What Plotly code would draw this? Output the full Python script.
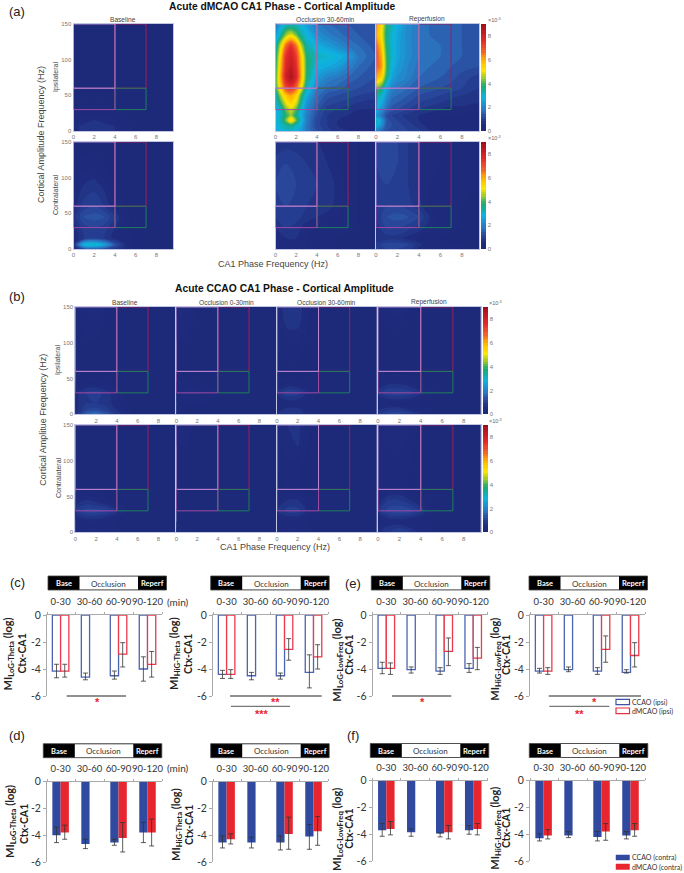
import plotly.graph_objects as go

W, H = 684, 873
# ---------- heat map grids ----------
fine_x = [0, 0.5, 1, 1.5, 2, 2.5, 3, 4, 5, 6, 7, 8, 9.6]
fine_y = [0, 8, 15, 22, 30, 40, 50, 60, 75, 90, 105, 120, 135, 150]
coarse_x = [0, 1, 2, 3, 4, 5, 6, 8, 9.6]
coarse_y = [0, 6, 15, 30, 45, 60, 90, 120, 150]

a_occ_ipsi = [
 [2.6,2.8,2.9,2.9,2.8,2.4,1.8,1.2,0.9,0.7,0.6,0.5,0.4],
 [2.8,3.0,3.4,3.6,3.2,2.6,1.8,1.1,0.8,0.6,0.5,0.5,0.4],
 [2.8,3.2,4.2,5.6,4.2,2.9,1.9,1.1,0.8,0.6,0.5,0.5,0.4],
 [2.7,3.1,3.8,4.4,3.6,2.7,1.9,1.2,0.8,0.7,0.6,0.5,0.5],
 [2.7,3.2,4.2,4.8,4.1,2.9,2.1,1.3,0.9,0.8,0.7,0.6,0.6],
 [2.9,3.9,5.0,5.5,4.9,3.4,2.3,1.5,1.1,1.0,0.9,0.8,0.7],
 [3.1,4.6,5.7,6.1,5.5,3.9,2.7,1.7,1.3,1.2,1.1,1.0,0.9],
 [3.7,5.5,7.0,7.4,6.6,5.0,3.2,2.0,1.6,1.5,1.3,1.2,1.1],
 [3.8,6.0,8.0,8.7,7.8,5.8,3.7,2.4,2.0,1.8,1.6,1.4,1.2],
 [3.6,5.8,7.7,8.3,7.6,5.7,3.8,2.8,2.6,2.4,2.0,1.6,1.3],
 [3.4,5.5,7.5,8.0,7.3,5.5,3.7,3.1,3.0,2.8,2.4,1.8,1.4],
 [3.1,4.8,6.6,7.5,6.5,4.6,3.3,2.7,2.4,2.1,1.8,1.6,1.3],
 [2.3,3.3,4.4,4.9,4.2,3.3,2.9,2.2,1.9,1.7,1.5,1.4,1.2],
 [1.6,2.6,3.0,3.0,3.0,2.8,2.4,1.9,1.6,1.5,1.4,1.3,1.2]]
a_rep_ipsi = [
 [2.0,1.6,1.2,1.2,1.1,1.1,1.0,0.9,0.6,0.4,0.3,0.3,0.3],
 [3.0,2.2,1.3,1.2,1.1,1.0,0.9,0.7,0.5,0.4,0.3,0.3,0.3],
 [3.3,2.4,1.3,1.1,1.0,0.9,0.8,0.6,0.5,0.4,0.3,0.3,0.3],
 [2.4,1.8,1.2,1.0,0.9,0.8,0.7,0.6,0.5,0.4,0.4,0.4,0.3],
 [2.8,2.3,1.6,1.3,1.2,1.1,1.0,0.8,0.7,0.6,0.5,0.5,0.4],
 [3.1,2.7,1.9,1.5,1.4,1.3,1.2,1.0,0.9,0.8,0.7,0.7,0.6],
 [3.5,3.1,2.2,1.7,1.6,1.5,1.4,1.2,1.1,1.0,0.9,0.8,0.7],
 [4.2,3.8,2.6,2.0,1.8,1.7,1.6,1.4,1.3,1.2,1.1,1.0,0.8],
 [6.0,5.4,3.6,2.5,2.2,2.1,1.9,1.6,1.5,1.4,1.3,1.1,0.9],
 [6.8,6.2,3.9,2.8,2.4,2.2,2.0,1.7,1.6,1.5,1.4,1.3,1.2],
 [7.0,6.0,3.8,3.0,2.5,2.3,2.1,1.8,1.7,1.6,1.5,1.4,1.3],
 [6.8,5.6,3.6,3.0,2.5,2.3,2.1,1.8,1.7,1.6,1.5,1.4,1.3],
 [6.0,5.2,3.5,3.0,2.6,2.3,2.1,1.8,1.6,1.5,1.5,1.4,1.3],
 [6.2,5.4,3.7,3.2,2.7,2.4,2.1,1.8,1.6,1.5,1.5,1.4,1.3]]
a_base_ipsi = [
 [.5,.7,.8,.7,.6,.3,.15,.1,.1],[.5,.7,.8,.7,.6,.3,.15,.1,.1],[.3,.5,.6,.5,.4,.2,.1,.1,.1],
 [.2,.3,.3,.3,.2,.1,.1,.1,.1],[.15,.15,.15,.15,.1,.1,.1,.1,.1],[.1,.1,.1,.1,.1,.1,.1,.1,.1],
 [.1,.1,.1,.1,.1,.1,.1,.1,.1],[.1,.1,.1,.1,.1,.1,.1,.1,.1],[.1,.1,.1,.1,.1,.1,.1,.1,.1]]
a_base_contra = [
 [.4,1.2,1.4,1.2,.8,.5,.2,.1,.1],[.6,2.9,3.2,2.5,1.3,.6,.2,.1,.1],[.4,.8,1.0,.8,.5,.3,.2,.1,.1],
 [.5,.9,1.0,.9,.6,.3,.1,.1,.1],[.7,1.2,1.3,1.2,.8,.3,.1,.1,.1],[.5,.9,1.0,.8,.4,.2,.1,.1,.1],
 [.3,.6,.7,.5,.2,.1,.1,.1,.1],[.2,.3,.3,.2,.1,.1,.1,.1,.1],[.1,.1,.1,.1,.1,.1,.1,.1,.1]]
a_occ_contra = [
 [.4,.6,.5,.4,.3,.3,.2,.1,.1],[.4,.6,.5,.4,.3,.3,.2,.1,.1],[.5,.6,.6,.4,.3,.3,.2,.1,.1],
 [.6,.8,.7,.5,.4,.4,.3,.2,.1],[.8,1.0,.9,.7,.6,.5,.4,.2,.1],[.9,1.0,.9,.8,.7,.7,.5,.2,.1],
 [1.0,1.1,1.0,.9,.8,.8,.5,.2,.1],[.9,1.0,.9,.8,.7,.6,.4,.2,.1],[.6,.7,.7,.6,.6,.5,.4,.2,.1]]
a_rep_contra = [
 [.8,1.0,1.0,.9,.5,.3,.3,.2,.2],[.9,1.1,1.1,1.0,.7,.3,.3,.2,.2],[.6,.7,.7,.5,.4,.3,.2,.2,.2],
 [.7,1.0,1.0,.9,.7,.5,.3,.2,.2],[.8,1.2,1.3,1.2,1.0,.6,.3,.2,.2],[.8,1.0,1.0,.9,.7,.4,.3,.2,.2],
 [.9,1.0,1.0,.8,.6,.4,.3,.3,.2],[1.0,1.1,1.0,.8,.6,.5,.4,.3,.3],[1.0,1.1,1.0,.8,.6,.5,.4,.3,.3]]
b_base_ipsi = [
 [.6,1.5,1.8,1.3,.8,.4,.1,.1,.1],[.5,1.0,1.1,.9,.6,.3,.1,.1,.1],[.5,.8,.8,.7,.5,.2,.1,.1,.1],
 [.5,.8,.9,.7,.4,.1,.1,.1,.1],[.2,.3,.3,.2,.1,.1,.1,.1,.1],[.1,.1,.1,.1,.1,.1,.1,.1,.1],
 [.1,.1,.1,.1,.1,.1,.1,.1,.1],[.1,.3,.3,.1,.1,.1,.1,.1,.1],[.1,.5,.6,.2,.1,.1,.1,.1,.1]]
b_occ1_ipsi = [
 [.5,.3,.2,.1,.1,.1,.1,.1,.1],[.3,.2,.2,.1,.1,.1,.1,.1,.1],[.2,.2,.2,.2,.1,.1,.1,.1,.1],
 [.4,.5,.5,.4,.2,.1,.1,.1,.1],[.2,.2,.2,.1,.1,.1,.1,.1,.1],[.1,.1,.1,.1,.1,.1,.1,.1,.1],
 [.1,.1,.1,.1,.1,.1,.1,.1,.1],[.3,.3,.1,.1,.1,.1,.1,.1,.1],[.5,.5,.3,.1,.1,.1,.1,.1,.1]]
b_occ2_ipsi = [
 [.6,.8,.8,.5,.3,.1,.1,.1,.1],[.5,.7,.7,.4,.2,.1,.1,.1,.1],[.3,.4,.4,.3,.1,.1,.1,.1,.1],
 [.6,1.0,.9,.5,.2,.1,.1,.1,.1],[.3,.3,.3,.2,.1,.1,.1,.1,.1],[.1,.1,.1,.1,.1,.1,.1,.1,.1],
 [.2,.3,.3,.1,.1,.1,.1,.1,.1],[.3,.6,.6,.2,.1,.1,.1,.1,.1],[.4,.8,.8,.3,.1,.1,.1,.1,.1]]
b_rep_ipsi = [
 [.8,1.1,1.1,.9,.6,.3,.1,.1,.1],[.6,.8,.8,.6,.4,.2,.1,.1,.1],[.3,.3,.3,.3,.2,.1,.1,.1,.1],
 [.7,1.0,1.0,.9,.6,.3,.1,.1,.1],[.4,.5,.5,.4,.2,.1,.1,.1,.1],[.1,.1,.1,.1,.1,.1,.1,.1,.1],
 [.1,.1,.1,.1,.1,.1,.1,.1,.1],[.1,.2,.2,.1,.1,.1,.1,.1,.1],[.2,.5,.6,.2,.1,.1,.1,.1,.1]]
b_base_contra = [
 [.4,.6,.6,.4,.2,.1,.1,.1,.1],[.3,.4,.4,.3,.2,.1,.1,.1,.1],[.3,.4,.4,.3,.2,.1,.1,.1,.1],
 [.8,1.1,1.1,1.0,.7,.2,.1,.1,.1],[.4,.6,.5,.3,.1,.1,.1,.1,.1],[.1,.2,.2,.1,.1,.1,.1,.1,.1],
 [.1,.1,.1,.1,.1,.1,.1,.1,.1],[.1,.1,.1,.1,.1,.1,.1,.1,.1],[.1,.1,.1,.1,.1,.1,.1,.1,.1]]
b_occ1_contra = [
 [.5,.2,.1,.1,.1,.1,.1,.1,.1],[.4,.2,.1,.1,.1,.1,.1,.1,.1],[.2,.1,.1,.1,.1,.1,.1,.1,.1],
 [.2,.2,.2,.1,.1,.1,.1,.1,.1],[.1,.1,.1,.1,.1,.1,.1,.1,.1],[.1,.1,.1,.1,.1,.1,.1,.1,.1],
 [.1,.1,.1,.1,.1,.1,.1,.1,.1],[.2,.2,.1,.1,.1,.1,.1,.1,.1],[.3,.3,.1,.1,.1,.1,.1,.1,.1]]
b_occ2_contra = [
 [.4,.6,.6,.3,.2,.1,.1,.1,.1],[.3,.4,.4,.2,.1,.1,.1,.1,.1],[.2,.3,.3,.2,.1,.1,.1,.1,.1],
 [.6,.9,.9,.5,.2,.1,.1,.1,.1],[.3,.6,.6,.3,.1,.1,.1,.1,.1],[.1,.2,.2,.1,.1,.1,.1,.1,.1],
 [.2,.3,.3,.1,.1,.1,.1,.1,.1],[.3,.6,.6,.2,.1,.1,.1,.1,.1],[.3,.6,.7,.3,.1,.1,.1,.1,.1]]
b_rep_contra = [
 [.5,.8,.9,.8,.5,.2,.1,.1,.1],[.5,.7,.8,.6,.4,.2,.1,.1,.1],[.3,.4,.4,.3,.2,.1,.1,.1,.1],
 [.7,1.1,1.2,1.1,.8,.3,.1,.1,.1],[.4,.8,.8,.6,.3,.1,.1,.1,.1],[.2,.3,.4,.2,.1,.1,.1,.1,.1],
 [.2,.3,.3,.2,.1,.1,.1,.1,.1],[.3,.5,.5,.3,.1,.1,.1,.1,.1],[.3,.5,.6,.4,.1,.1,.1,.1,.1]]

# ---------- bar data: mean, upper whisker end, lower whisker end ----------
periods = ["0-30", "30-60", "60-90", "90-120"]
N = None
c1_ccao=[-4.15,-4.6,-4.5,-4.0]; c1_ccao_top=[-3.65,-4.3,-4.15,-3.1]; c1_ccao_bot=[-4.65,-4.8,-4.75,-4.9]
c1_dmcao=[-4.15,N,-2.9,-3.65]; c1_dmcao_top=[-3.65,N,-2.05,-2.7]; c1_dmcao_bot=[-4.6,N,-3.85,-4.6]
c2_ccao=[-4.4,-4.5,-4.5,-4.25]; c2_ccao_top=[-4.1,-4.25,-4.3,-2.95]; c2_ccao_bot=[-4.7,-4.8,-4.75,-5.4]
c2_dmcao=[-4.4,N,-2.55,-3.1]; c2_dmcao_top=[-4.05,N,-1.75,-2.2]; c2_dmcao_bot=[-4.7,N,-3.35,-4.0]
e1_ccao=[-3.95,-4.05,-4.15,-3.95]; e1_ccao_top=[-3.5,-3.85,-3.9,-3.6]; e1_ccao_bot=[-4.35,-4.3,-4.4,-4.25]
e1_dmcao=[-3.95,N,-2.7,-3.2]; e1_dmcao_top=[-3.55,N,-1.7,-2.4]; e1_dmcao_bot=[-4.4,N,-3.75,-4.05]
e2_ccao=[-4.15,-4.05,-4.15,-4.25]; e2_ccao_top=[-3.95,-3.85,-3.9,-4.05]; e2_ccao_bot=[-4.3,-4.2,-4.4,-4.3]
e2_dmcao=[-4.15,N,-2.55,-3.0]; e2_dmcao_top=[-3.9,N,-1.55,-2.05]; e2_dmcao_bot=[-4.4,N,-3.5,-3.85]
d1_ccao=[-4.0,-4.65,-4.55,-3.8]; d1_ccao_top=[-3.4,-4.3,-4.3,-3.05]; d1_ccao_bot=[-4.55,-5.0,-4.75,-4.55]
d1_dmcao=[-3.8,N,-4.2,-3.8]; d1_dmcao_top=[-3.25,N,-3.05,-2.8]; d1_dmcao_bot=[-4.3,N,-5.25,-4.8]
d2_ccao=[-4.55,-4.55,-4.55,-4.1]; d2_ccao_top=[-4.05,-4.15,-4.05,-3.2]; d2_ccao_bot=[-4.95,-4.95,-5.1,-5.05]
d2_dmcao=[-4.3,N,-3.9,-3.7]; d2_dmcao_top=[-3.9,N,-2.65,-2.6]; d2_dmcao_bot=[-4.65,N,-5.05,-4.75]
f1_ccao=[-3.7,-3.85,-3.95,-3.7]; f1_ccao_top=[-3.2,-3.6,-3.9,-3.35]; f1_ccao_bot=[-4.15,-4.15,-4.2,-4.0]
f1_dmcao=[-3.6,N,-3.85,-3.6]; f1_dmcao_top=[-3.05,N,-3.35,-3.2]; f1_dmcao_bot=[-4.05,N,-4.35,-4.05]
f2_ccao=[-4.3,-4.1,-4.2,-4.1]; f2_ccao_top=[-3.95,-3.8,-3.8,-3.8]; f2_ccao_bot=[-4.5,-4.25,-4.5,-4.35]
f2_dmcao=[-4.1,N,-3.8,-3.7]; f2_dmcao_top=[-3.65,N,-3.2,-3.2]; f2_dmcao_bot=[-4.35,N,-4.45,-4.15]

# ---------- helpers ----------
fig = go.Figure()
shapes, anns = [], []
layout = {}
axn = [0]
SANS = "Liberation Sans"
CAL = "Lato"
px = lambda x: x / W
py = lambda y: 1 - y / H

def ann(text, x, y, size, color="#333", bold=False, angle=0, xanchor="center", font=SANS):
    if bold:
        text = "<b>" + text + "</b>"
    anns.append(dict(text=text, x=px(x), y=py(y), xref="paper", yref="paper", showarrow=False,
                     xanchor=xanchor, yanchor="middle", textangle=angle, borderpad=0, borderwidth=0,
                     font=dict(size=size, color=color, family=font)))

def rect(x0, y0, x1, y1, fill="rgba(0,0,0,0)", line="#000", lw=1):
    shapes.append(dict(type="rect", xref="paper", yref="paper", x0=px(x0), x1=px(x1), y0=py(y1), y1=py(y0),
                       fillcolor=fill, line=dict(color=line, width=lw), layer="above"))

def hline(x0, x1, y, color="#222", lw=1):
    shapes.append(dict(type="line", xref="paper", yref="paper", x0=px(x0), x1=px(x1), y0=py(y), y1=py(y),
                       line=dict(color=color, width=lw), layer="above"))

def new_axes(x0, x1, y0, y1):
    axn[0] += 1
    n = axn[0]
    sx = "" if n == 1 else str(n)
    xa, ya = "xaxis" + sx, "yaxis" + sx
    layout[xa] = dict(domain=[px(x0), px(x1)], anchor="y" + sx)
    layout[ya] = dict(domain=[py(y1), py(y0)], anchor="x" + sx)
    return n, "x" + sx, "y" + sx, xa, ya

COLS = [[0, "#1d2878"], [0.06, "#1f2c7e"], [0.13, "#2a4a9e"], [0.2, "#2b78c2"], [0.31, "#0db4e2"],
        [0.42, "#1dab72"], [0.5, "#a8cc2a"], [0.57, "#ffe600"], [0.66, "#ffb400"], [0.74, "#f2662c"],
        [0.84, "#e62a2a"], [1, "#9e0f1c"]]
TICKC = "#777"

def heat(x0, x1, y0, y1, xs, ys, z, xticks=(0, 2, 4, 6, 8), yticks=None, cbar=None):
    n, xr, yr, xa, ya = new_axes(x0, x1, y0, y1)
    tr = dict(x=xs, y=ys, z=z, xaxis=xr, yaxis=yr, zmin=0, zmax=9, colorscale=COLS,
              contours=dict(coloring="fill", start=0, end=9, size=0.2, showlines=False),
              line=dict(width=0, smoothing=1), hoverinfo="skip", showscale=False)
    if cbar:
        tr["showscale"] = True
        tr["colorbar"] = dict(x=px(cbar[0]), xanchor="left", xpad=0, ypad=0, thickness=cbar[1] - cbar[0],
                              thicknessmode="pixels", y=py(y1), yanchor="bottom", len=(y1 - y0) / H,
                              lenmode="fraction", tickvals=[0, 2, 4, 6, 8], outlinewidth=0, ticks="",
                              tickfont=dict(size=6, color=TICKC, family=SANS))
    fig.add_trace(go.Contour(**tr))
    base = dict(showgrid=False, zeroline=False, showline=True, mirror=True, linecolor="#c3c6e2",
                linewidth=1, ticks="", tickfont=dict(size=6, color=TICKC, family=SANS))
    layout[xa].update(base, range=[0, 9.6], tickvals=list(xticks))
    layout[ya].update(base, range=[0, 150], tickvals=list(yticks) if yticks else [],
                      showticklabels=bool(yticks))
    for bx0, by0, bx1, by1, c in [(4, 60, 7, 150, "#a01f5c"), (4, 30, 7, 60, "#1f7f5c"),
                                   (0, 30, 4, 60, "#a24aa4"), (0, 60, 4, 150, "#b88ad2")]:
        shapes.append(dict(type="rect", xref=xr, yref=yr, x0=bx0, x1=bx1, y0=by0, y1=by1,
                           line=dict(color=c, width=1), layer="above"))

def bars(ax_x, ax_y0, ax_y1, ccao, ct, cb, dm, dt, db, filled):
    n, xr, yr, xa, ya = new_axes(ax_x, ax_x + 115, ax_y0, ax_y1)
    pos = list(range(len(periods)))
    blue, red = "#2f4a9f", "#e8262f"
    for vals, top, bot, col, lc, pale in [(ccao, ct, cb, blue, "#4c64b0", "#fff"), (dm, dt, db, red, "#ea3a4c", "#fff")]:
        up = [None if v is None else t - v for v, t in zip(vals, top)]
        dn = [None if v is None else v - b for v, b in zip(vals, bot)]
        fig.add_trace(go.Bar(x=pos, y=vals, xaxis=xr, yaxis=yr, showlegend=False, hoverinfo="skip",
                             marker=dict(color=col if filled else pale, line=dict(color=col if filled else lc, width=0 if filled else 1.3)),
                             error_y=dict(type="data", symmetric=False, array=up, arrayminus=dn,
                                          color="#333", thickness=0.8, width=2.5)))
    layout[xa].update(range=[-0.47, 3.5], side="top", tickvals=pos, ticktext=periods, ticks="", tickangle=0,
                      tickfont=dict(size=9.5, color="#333", family=CAL), showgrid=False, zeroline=False,
                      showline=True, linecolor="#aaa", linewidth=1, ticklabelstandoff=5,
                      minor=dict(tickvals=[-0.47, 0.5, 1.5, 2.5, 3.5], ticks="outside", ticklen=2, tickcolor="#aaa"))
    layout[ya].update(range=[-6, 0], tickvals=[0, -2, -4, -6], ticktext=["0", "-2", "-4", "-6"], tickangle=0,
                      tickfont=dict(size=10.5, color="#333", family=CAL), showgrid=False, zeroline=False,
                      showline=True, linecolor="#aaa", linewidth=1, ticks="outside", ticklen=3, tickcolor="#aaa")

def header(x0, y0):
    rect(x0, y0, x0 + 118.5, y0 + 14, "#000", "#444", 0.8)
    rect(x0 + 31.5, y0 + 0.5, x0 + 90, y0 + 13.5, "#fff", "#fff", 0)
    ann("Base", x0 + 15.5, y0 + 7.5, 7.5, "#fff", True, font=CAL)
    ann("Occlusion", x0 + 60.5, y0 + 7.5, 8, "#333", font=CAL)
    ann("Reperf", x0 + 104.5, y0 + 7.5, 7.5, "#fff", True, font=CAL)

def mi_label(sub, x1, y1, x2, y2):
    ann("MI<sub>%s</sub> (log)" % sub, x1, y1, 11, "#222", True, -90, font=CAL)
    ann("Ctx-CA1", x2, y2, 10.5, "#222", True, -90, font=CAL)

# ---------- panel (a) ----------
ann("(a)", 17, 12, 13, "#222")
ann("Acute dMCAO CA1 Phase - Cortical Amplitude", 282, 6.5, 10.3, "#111", True)
for t, c in [("Baseline", 123), ("Occlusion 30-60min", 325), ("Reperfusion", 427)]:
    ann(t, c, 19, 6.6, "#444")
Y = [0, 50, 100, 150]
heat(73.5, 173, 24, 131, coarse_x, coarse_y, a_base_ipsi, yticks=Y)
heat(275.5, 375, 24, 131, fine_x, fine_y, a_occ_ipsi)
heat(376, 479, 24, 131, fine_x, fine_y, a_rep_ipsi, cbar=(481, 486))
heat(73.5, 173, 142, 249, coarse_x, coarse_y, a_base_contra, yticks=Y)
heat(275.5, 375, 142, 249, coarse_x, coarse_y, a_occ_contra)
heat(376, 479, 142, 249, coarse_x, coarse_y, a_rep_contra, cbar=(481, 486))
ann("Cortical Amplitude Frequency (Hz)", 41, 135, 9, "#444", angle=-90)
ann("Ipsilateral", 56, 77, 7, "#444", angle=-90)
ann("Contralateral", 56, 195, 7, "#444", angle=-90)
ann("CA1 Phase Frequency (Hz)", 273, 264, 9, "#444")
ann("×10<sup>-3</sup>", 494, 20, 5.5, "#666")
ann("×10<sup>-3</sup>", 494, 138, 5.5, "#666")

# ---------- panel (b) ----------
ann("(b)", 17, 296, 13, "#222")
ann("Acute CCAO CA1 Phase - Cortical Amplitude", 284.5, 289, 10.3, "#111", True)
for t, c in [("Baseline", 125), ("Occlusion 0-30min", 226), ("Occlusion 30-60min", 326), ("Reperfusion", 429)]:
    ann(t, c, 302, 6.6, "#444")
colsb = [(75.3, 175), (176.3, 276), (277, 376.7), (378, 480.7)]
rows = [(307, 414.3, [b_base_ipsi, b_occ1_ipsi, b_occ2_ipsi, b_rep_ipsi]),
        (425, 532.3, [b_base_contra, b_occ1_contra, b_occ2_contra, b_rep_contra])]
for ri, (r0, r1, zs) in enumerate(rows):
    for ci, (c0, c1) in enumerate(colsb):
        heat(c0, c1, r0, r1, coarse_x, coarse_y, zs[ci],
             xticks=(2, 4, 6, 8) if (ri == 0 and ci == 0) else (0, 2, 4, 6, 8),
             yticks=Y if ci == 0 else None, cbar=(483, 487.7) if ci == 3 else None)
ann("Cortical Amplitue Frequency (Hz)", 42.7, 420, 9, "#444", angle=-90)
ann("Ipsilateral", 58, 360, 7, "#444", angle=-90)
ann("Contralateral", 58, 478, 7, "#444", angle=-90)
ann("CA1 Phase Frequency (Hz)", 275, 546.7, 9, "#444")
ann("×10<sup>-3</sup>", 495, 303, 5.5, "#666")
ann("×10<sup>-3</sup>", 495, 421, 5.5, "#666")

# ---------- bar panels ----------
bars(47, 615, 696, c1_ccao, c1_ccao_top, c1_ccao_bot, c1_dmcao, c1_dmcao_top, c1_dmcao_bot, False)
bars(213, 615, 696, c2_ccao, c2_ccao_top, c2_ccao_bot, c2_dmcao, c2_dmcao_top, c2_dmcao_bot, False)
bars(372.7, 615, 696, e1_ccao, e1_ccao_top, e1_ccao_bot, e1_dmcao, e1_dmcao_top, e1_dmcao_bot, False)
bars(530, 615, 696, e2_ccao, e2_ccao_top, e2_ccao_bot, e2_dmcao, e2_dmcao_top, e2_dmcao_bot, False)
bars(47, 781.7, 862, d1_ccao, d1_ccao_top, d1_ccao_bot, d1_dmcao, d1_dmcao_top, d1_dmcao_bot, True)
bars(213, 781.7, 862, d2_ccao, d2_ccao_top, d2_ccao_bot, d2_dmcao, d2_dmcao_top, d2_dmcao_bot, True)
bars(372.7, 780.7, 861, f1_ccao, f1_ccao_top, f1_ccao_bot, f1_dmcao, f1_dmcao_top, f1_dmcao_bot, True)
bars(530, 780.7, 861, f2_ccao, f2_ccao_top, f2_ccao_bot, f2_dmcao, f2_dmcao_top, f2_dmcao_bot, True)

for hx, hy in [(48, 576), (210.7, 576), (371.3, 576), (529, 576), (43.3, 743.7), (210.7, 743.7), (370.3, 743.5), (529.3, 743.5)]:
    header(hx, hy)

for lab, x, y in [("(c)", 17, 582), ("(d)", 17, 735), ("(e)", 353, 583), ("(f)", 353, 735)]:
    ann(lab, x, y, 13, "#222")
ann("(min)", 178, 601.7, 10, "#333", font=CAL)
ann("(min)", 178, 767.7, 10, "#333", font=CAL)

mi_label("LoG-Theta", 7.5, 654, 21.5, 654)
mi_label("HiG-Theta", 174, 654, 188, 654)
mi_label("LoG-LowFreq", 336.7, 660, 348.7, 655)
mi_label("HiG-LowFreq", 494.7, 659, 506, 655)
mi_label("LoG-Theta", 10, 822, 24, 824)
mi_label("HiG-Theta", 176, 825, 189, 825)
mi_label("LoG-LowFreq", 337, 830, 348.7, 829)
mi_label("HiG-LowFreq", 494.7, 828, 506, 828)

hline(66.7, 126, 696)
ann("*", 97.7, 702, 11, "#e8262f", True)
hline(230, 321.7, 696)
ann("**", 275, 702, 11, "#e8262f", True)
hline(231, 290, 706.3, "#555")
ann("***", 262, 714, 11, "#e8262f", True)
hline(392, 451.3, 696)
ann("*", 422, 702, 11, "#e8262f", True)
hline(548.7, 641, 696)
ann("*", 594, 702, 11, "#e8262f", True)
hline(549.3, 609.3, 706.3, "#555")
ann("**", 579, 714, 11, "#e8262f", True)

rect(616, 699.3, 629.5, 704.7, "#fff", "#3a55a8", 1.2)
rect(616, 708, 629.5, 713.7, "#fff", "#e8303f", 1.2)
ann("CCAO (ipsi)", 632, 702, 7, "#333", xanchor="left", font=CAL)
ann("dMCAO (ipsi)", 632, 711, 7, "#333", xanchor="left", font=CAL)
rect(616, 855, 629.5, 860, "#2f4a9f", "#2f4a9f", 0.5)
rect(616, 864, 629.5, 869.5, "#e8262f", "#e8262f", 0.5)
ann("CCAO (contra)", 632, 857.5, 7, "#333", xanchor="left", font=CAL)
ann("dMCAO (contra)", 632, 867, 7, "#333", xanchor="left", font=CAL)

fig.update_layout(width=W, height=H, margin=dict(l=0, r=0, t=0, b=0, autoexpand=False), paper_bgcolor="#fff",
                  plot_bgcolor="#fff", showlegend=False, barmode="group", bargap=0.43, bargroupgap=0,
                  shapes=shapes, annotations=anns, **layout)
fig.write_html("out.html", config={"displayModeBar": False},
               post_script="document.body.style.margin='0';document.documentElement.style.overflow='hidden';")
